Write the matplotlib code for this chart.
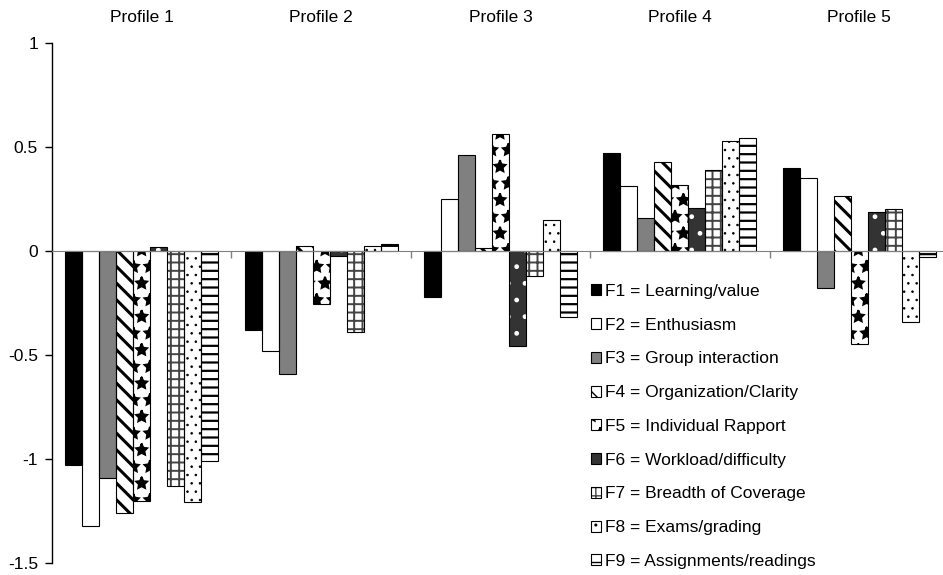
import numpy as np
import matplotlib
matplotlib.use("Agg")
import matplotlib.pyplot as plt
from matplotlib.patches import Patch
from matplotlib.transforms import blended_transform_factory
from matplotlib.legend_handler import HandlerTuple

plt.rcParams['font.family'] = ['Liberation Sans', 'DejaVu Sans']
plt.rcParams['hatch.linewidth'] = 1.0

profiles = ["Profile 1", "Profile 2", "Profile 3", "Profile 4", "Profile 5"]
factors = ["F1 = Learning/value", "F2 = Enthusiasm", "F3 = Group interaction",
           "F4 = Organization/Clarity", "F5 = Individual Rapport",
           "F6 = Workload/difficulty", "F7 = Breadth of Coverage",
           "F8 = Exams/grading", "F9 = Assignments/readings"]

# one list per factor, one value per profile
f1 = [-1.03, -0.38, -0.22, 0.47, 0.40]
f2 = [-1.32, -0.48, 0.25, 0.31, 0.35]
f3 = [-1.09, -0.59, 0.46, 0.16, -0.18]
f4 = [-1.26, 0.025, 0.015, 0.425, 0.265]
f5 = [-1.20, -0.255, 0.56, 0.315, -0.45]
f6 = [0.02, -0.023, -0.455, 0.205, 0.185]
f7 = [-1.13, -0.39, -0.12, 0.39, 0.20]
f8 = [-1.205, 0.025, 0.15, 0.53, -0.34]
f9 = [-1.01, 0.035, -0.32, 0.54, -0.03]
values = [f1, f2, f3, f4, f5, f6, f7, f8, f9]

# (face, hatch, hatch colour, hatch linewidth)
styles = [
    ("black", None, "black", 1.0),
    ("white", None, "black", 1.0),
    ("#808080", None, "black", 1.0),
    ("white", "\\\\", "black", 2.2),
    ("white", "*", "black", 1.5),
    ("#333333", ".", "white", 1.0),
    ("white", "++", "#444444", 1.4),
    ("white", "..", "black", 0.6),
    ("white", "--", "black", 1.6),
]


def set_hlw(p, lw):
    if hasattr(p, "set_hatch_linewidth"):
        p.set_hatch_linewidth(lw)


fig = plt.figure(figsize=(9.43, 5.75), dpi=100)
ax = fig.add_axes([52 / 943, 1 - 563 / 575, 897 / 943, 520.3 / 575])

x = np.arange(len(profiles))
w = 0.0947
handles = []
for i, vals in enumerate(values):
    face, hatch, hcol, hlw = styles[i]
    pos = x + (i - 4) * w
    with plt.rc_context({'hatch.linewidth': hlw}):
        bars = ax.bar(pos, vals, w, color=face, hatch=hatch, edgecolor=hcol, linewidth=0, zorder=2)
        for b in bars:
            set_hlw(b, hlw)
        ax.bar(pos, vals, w, fill=False, edgecolor="black", linewidth=0.8, zorder=3)
        h1 = Patch(facecolor=face, hatch=hatch, edgecolor=hcol, linewidth=0)
        set_hlw(h1, hlw)
    h2 = Patch(fill=False, edgecolor="black", linewidth=0.8)
    handles.append((h1, h2))

ax.set_xlim(-0.5, 4.5)
ax.set_ylim(-1.5, 1)
ax.set_yticks([1, 0.5, 0, -0.5, -1, -1.5])
ax.set_yticklabels(["1", "0.5", "0", "-0.5", "-1", "-1.5"])
ax.set_xticks([0.5, 1.5, 2.5, 3.5])
ax.set_xticklabels([])
ax.tick_params(axis='y', direction='out', length=5, width=1, labelsize=12.5, pad=5)
ax.tick_params(axis='x', direction='out', length=5, width=1, color="#808080")

for s in ["top", "right"]:
    ax.spines[s].set_visible(False)
ax.spines["bottom"].set_position(("data", 0))
ax.spines["bottom"].set_color("#808080")
ax.spines["bottom"].set_zorder(4)
ax.spines["left"].set_linewidth(1)

tr = blended_transform_factory(ax.transData, ax.transAxes)
for g, name in zip(x, profiles):
    ax.text(g, 1.049, name, transform=tr, ha="center", va="center", fontsize=12.5)

leg = fig.legend(handles, factors, loc="upper left",
                 bbox_to_anchor=(591 / 943, 1 - 284 / 575),
                 frameon=False, fontsize=12.5, handlelength=0.6, handleheight=0.6,
                 handletextpad=0.2, labelspacing=1.08, borderpad=0, borderaxespad=0,
                 handler_map={tuple: HandlerTuple(ndivide=1)})

fig.savefig("out.png", dpi=100)
